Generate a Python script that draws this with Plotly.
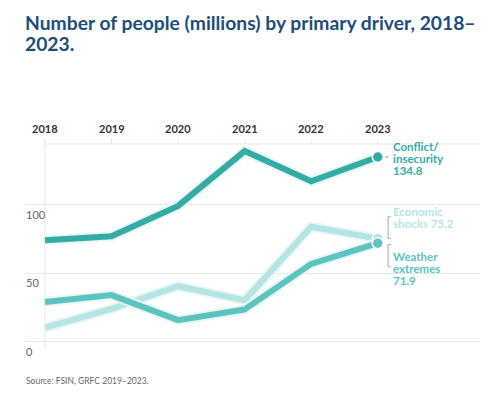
import plotly.graph_objects as go

years = [2018, 2019, 2020, 2021, 2022, 2023]
conflict = [74.0, 77.0, 99.1, 139.1, 117.1, 134.8]
weather = [29.0, 34.0, 15.7, 23.5, 56.8, 71.9]
economic = [10.2, 24.0, 40.5, 30.2, 83.9, 75.2]
y_ticks = [0, 50, 100]

C_CONF = "#33aca6"
C_WEAT = "#5cc4be"
C_ECON = "#b3e5e3"
HALO = "#e9f6f5"
GRID = "#e6e6e6"
FONT = "Lato"

W, H = 496, 398
ML, MR, MT, MB = 25, 16, 130, 38
YR = [-13.36, 154.5]
XR = [2017.7, 2024.536]


def py(pix):
    """pixel row -> paper y"""
    return (H - MB - pix) / (H - MT - MB)


def px(pix):
    return (pix - ML) / (W - ML - MR)


fig = go.Figure()

series = [("Economic shocks", economic, C_ECON), ("Weather extremes", weather, C_WEAT),
          ("Conflict/insecurity", conflict, C_CONF)]
for name, vals, col in series:
    fig.add_trace(go.Scatter(x=years, y=vals, mode="lines", line=dict(color=HALO, width=10),
                             hoverinfo="skip", showlegend=False, cliponaxis=False))
    fig.add_trace(go.Scatter(x=years, y=vals, mode="lines", line=dict(color=col, width=6),
                             name=name, showlegend=False, cliponaxis=False))
for name, vals, col in series:
    fig.add_trace(go.Scatter(x=[years[-1]], y=[vals[-1]], mode="markers",
                             marker=dict(color=col, size=11, line=dict(color="white", width=1.5)),
                             showlegend=False, cliponaxis=False, hoverinfo="skip"))

TOP = 144.3
fig.add_shape(type="line", xref="x", yref="y", x0=2018, x1=XR[1], y0=TOP, y1=TOP,
              line=dict(color=GRID, width=1), layer="below")
fig.add_shape(type="line", xref="x", yref="y", x0=2018, x1=2018, y0=-4.6, y1=148,
              line=dict(color=GRID, width=1), layer="below")
for yr in years:
    fig.add_shape(type="line", xref="x", yref="y", x0=yr, x1=yr, y0=TOP, y1=148,
                  line=dict(color=GRID, width=1), layer="below")
    fig.add_annotation(x=yr, y=py(128), xref="x", yref="paper", text=f"<b>{yr}</b>",
                       showarrow=False, font=dict(family=FONT, size=11, color="#333333"),
                       xanchor="center", yanchor="middle")

for t in y_ticks:
    fig.add_annotation(x=0, y=t, xref="paper", yref="y", text=str(t), showarrow=False,
                       xanchor="left", yanchor="top", yshift=-1, xshift=-1,
                       font=dict(family=FONT, size=11, color="#666666"))

# end labels, one annotation per line to control line spacing
LAB_X = px(393)


def lab(lines, first_center, col, step):
    for i, t in enumerate(lines):
        fig.add_annotation(x=LAB_X, y=py(first_center + i * step), xref="paper", yref="paper",
                           text=f"<b>{t}</b>", showarrow=False, xanchor="left", yanchor="middle",
                           xshift=-2, font=dict(family=FONT, size=11.5, color=col))


lab(["Conflict/", "insecurity", "134.8"], 146.5, C_CONF, 12.2)
lab(["Economic", "shocks 75.2"], 211, C_ECON, 12)
lab(["Weather", "extremes", "71.9"], 256, C_WEAT, 12)

# connectors
fig.add_shape(type="line", xref="x", yref="y", x0=2023.11, x1=2023.16, y0=134.8, y1=134.8,
              line=dict(color="#999999", width=1))
bx = 2023.155
fig.add_shape(type="path", xref="x", yref="y",
              path=f"M {bx+0.04} 91.2 L {bx} 91.2 L {bx} 75.2 L {bx+0.04} 75.2",
              line=dict(color="#aaaaaa", width=1))
fig.add_shape(type="path", xref="x", yref="y",
              path=f"M {bx+0.04} 70.9 L {bx} 70.9 L {bx} 54.7 L {bx+0.04} 54.7",
              line=dict(color="#aaaaaa", width=1))

# title (two separate lines)
for t, c in [("Number of people (millions) by primary driver, 2018–", 22), ("2023.", 44)]:
    fig.add_annotation(x=0, y=py(c), xref="paper", yref="paper", text=f"<b>{t}</b>",
                       showarrow=False, xanchor="left", yanchor="middle", xshift=-2,
                       font=dict(family=FONT, size=19.3, color="#1d4e79"))

fig.add_annotation(x=0, y=py(381), xref="paper", yref="paper", text="Source: FSIN, GRFC 2019–2023.",
                   showarrow=False, xanchor="left", yanchor="middle", xshift=-1,
                   font=dict(family=FONT, size=8.5, color="#666666"))

fig.update_layout(
    width=W, height=H,
    margin=dict(l=ML, r=MR, t=MT, b=MB),
    paper_bgcolor="white", plot_bgcolor="white",
    xaxis=dict(range=XR, showgrid=False, zeroline=False, showticklabels=False,
               showline=False, fixedrange=True),
    yaxis=dict(range=YR, tickvals=y_ticks, showgrid=True, gridcolor=GRID,
               gridwidth=1, zeroline=False, showticklabels=False, showline=False),
    showlegend=False,
)

fig.write_html("out.html", config={"displayModeBar": False},
               post_script="document.body.style.margin='0';")
